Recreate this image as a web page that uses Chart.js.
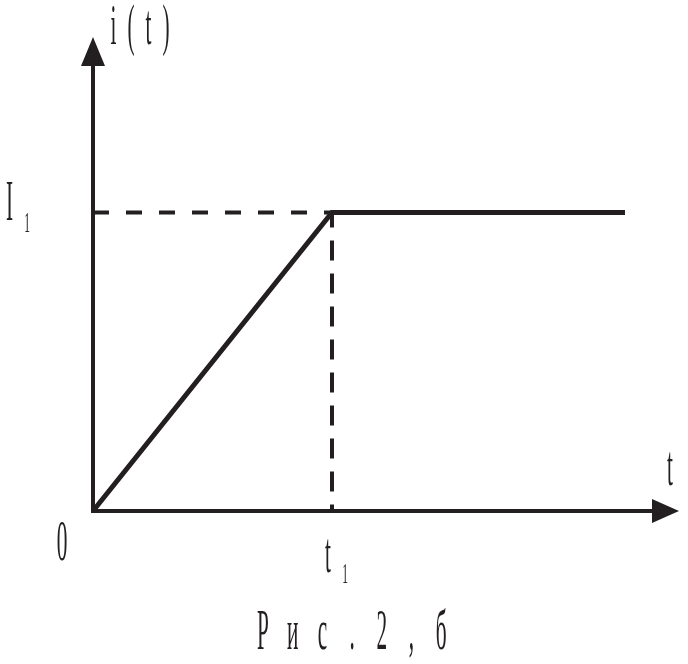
<!DOCTYPE html>
<html lang="ru">

<head>
    <meta charset="UTF-8" />
    <title>Рис. 2, б</title>
    <script src="https://cdn.jsdelivr.net/npm/chart.js"></script>
    <style>
        body {
            margin: 0;
            background: #ffffff;
        }

        #wrap {
            width: 688px;
            height: 664px;
        }
    </style>
</head>

<body>
    <div id="wrap">
        <canvas id="chart" width="688" height="664"></canvas>
    </div>

    <script>
        // current i(t): linear rise up to t1, then constant I1
        const tValues = [0, 1, 2.226];
        const iValues = [0, 1, 1];

        // dashed guides to I1 and t1
        const guideHx = [0, 1];
        const guideHy = [1, 1];
        const guideVx = [1, 1];
        const guideVy = [1, 0];

        // axis extents (arrow tips) in data units
        const xAxisMax = 2.452;
        const yAxisMax = 1.588;

        // labels
        const yAxisTitle = "i(t)";
        const xAxisTitle = "t";
        const originLabel = "0";
        const levelLabel = ["I", "1"];
        const timeLabel = ["t", "1"];
        const caption = "Рис.2,б";

        const ink = "#231f20";
        const font = "'Liberation Serif', 'DejaVu Serif', serif";

        const toPoints = (xs, ys) => xs.map((x, i) => ({ x: x, y: ys[i] }));

        function drawChar(ctx, ch, x, y, size, sx) {
            ctx.save();
            ctx.translate(x, y);
            ctx.scale(sx, 1);
            ctx.font = size + "px " + font;
            ctx.textAlign = "center";
            ctx.textBaseline = "alphabetic";
            ctx.fillStyle = ink;
            ctx.fillText(ch, 0, 0);
            ctx.restore();
        }

        function drawSpaced(ctx, str, x, y, size, step, sx) {
            Array.from(str).forEach((ch, i) => drawChar(ctx, ch, x + i * step, y, size, sx));
        }

        const axesPlugin = {
            id: "axes",
            beforeDatasetsDraw(chart) {
                const ctx = chart.ctx;
                const xs = chart.scales.x, ys = chart.scales.y;
                const x0 = xs.getPixelForValue(0), y0 = ys.getPixelForValue(0);
                const xTip = xs.getPixelForValue(xAxisMax), yTip = ys.getPixelForValue(yAxisMax);
                ctx.save();
                ctx.strokeStyle = ink;
                ctx.fillStyle = ink;
                ctx.lineWidth = 4;
                ctx.beginPath();
                ctx.moveTo(x0, yTip + 20);
                ctx.lineTo(x0, y0 + 2);
                ctx.moveTo(x0 - 2, y0);
                ctx.lineTo(xTip - 20, y0);
                ctx.stroke();
                // arrow heads
                ctx.beginPath();
                ctx.moveTo(x0, yTip);
                ctx.lineTo(x0 - 12, yTip + 29);
                ctx.lineTo(x0 + 12, yTip + 29);
                ctx.closePath();
                ctx.fill();
                ctx.beginPath();
                ctx.moveTo(xTip, y0);
                ctx.lineTo(xTip - 27, y0 - 12);
                ctx.lineTo(xTip - 27, y0 + 12);
                ctx.closePath();
                ctx.fill();
                ctx.restore();
            },
            afterDraw(chart) {
                const ctx = chart.ctx;
                const xs = chart.scales.x, ys = chart.scales.y;
                const x0 = xs.getPixelForValue(0), y0 = ys.getPixelForValue(0);
                const x1 = xs.getPixelForValue(1), y1 = ys.getPixelForValue(1);
                const xTip = xs.getPixelForValue(xAxisMax), yTip = ys.getPixelForValue(yAxisMax);
                const sx = 0.38;
                drawSpaced(ctx, yAxisTitle, x0 + 20.5, yTip + 7, 56, 17.5, sx);
                drawChar(ctx, xAxisTitle, xTip - 9, y0 - 26, 56, sx);
                drawChar(ctx, originLabel, x0 - 31, y0 + 49, 56, sx);
                drawChar(ctx, levelLabel[0], 9.5, y1 + 7.5, 56, sx);
                drawChar(ctx, levelLabel[1], 27, y1 + 19.5, 30, sx);
                drawChar(ctx, timeLabel[0], x1 - 4, y0 + 61, 56, sx);
                drawChar(ctx, timeLabel[1], x1 + 13, y0 + 71.5, 30, sx);
                drawSpaced(ctx, caption, 263, 649, 56, 29.7, sx);
            }
        };

        new Chart(document.getElementById("chart"), {
            type: "line",
            data: {
                datasets: [
                    {
                        data: toPoints(guideHx, guideHy),
                        borderColor: ink,
                        borderWidth: 4,
                        borderDash: [16, 17],
                        borderCapStyle: "butt",
                        pointRadius: 0,
                        clip: false
                    },
                    {
                        data: toPoints(guideVx, guideVy),
                        borderColor: ink,
                        borderWidth: 4,
                        borderDash: [20, 13],
                        borderDashOffset: 5,
                        borderCapStyle: "butt",
                        pointRadius: 0,
                        clip: false
                    },
                    {
                        data: toPoints(tValues, iValues),
                        borderColor: ink,
                        borderWidth: 5,
                        borderJoinStyle: "miter",
                        borderCapStyle: "butt",
                        pointRadius: 0,
                        tension: 0,
                        clip: false
                    }
                ]
            },
            options: {
                responsive: false,
                animation: false,
                devicePixelRatio: 1,
                layout: { padding: { left: 93, right: 9, top: 37, bottom: 153 } },
                scales: {
                    x: { type: "linear", min: 0, max: xAxisMax, display: false },
                    y: { type: "linear", min: 0, max: yAxisMax, display: false }
                },
                plugins: {
                    legend: { display: false },
                    tooltip: { enabled: false }
                }
            },
            plugins: [axesPlugin]
        });
    </script>
</body>

</html>
